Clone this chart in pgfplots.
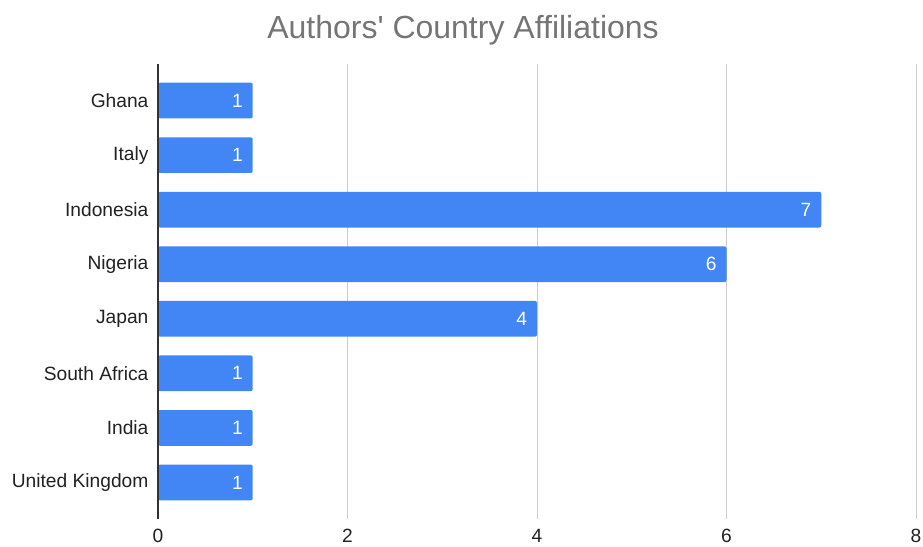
\documentclass[border=0pt]{standalone}
\usepackage{pgfplots}
\pgfplotsset{compat=1.18}
\usepackage{fontspec}
\setmainfont{Liberation Sans}
\definecolor{barblue}{HTML}{4285F4}
\definecolor{gridgray}{HTML}{CCCCCC}
\definecolor{titlegray}{HTML}{757575}
\definecolor{axisdark}{HTML}{333333}
\definecolor{labelblack}{HTML}{222222}
\begin{document}
\begin{tikzpicture}
\begin{axis}[
  name=ax,
  scale only axis,
  width=568.5pt, height=341.25pt,
  xbar, bar width=26.8pt,
  xmin=0, xmax=8,
  ymin=-0.67, ymax=7.67,
  y dir=reverse,
  xtick={0,2,4,6,8},
  ytick={0,1,2,3,4,5,6,7},
  yticklabels={Ghana,Italy,Indonesia,Nigeria,Japan,South Africa,India,United Kingdom},
  major tick length=0pt,
  axis line style={draw=none},
  xmajorgrids,
  major grid style={color=gridgray, line width=0.75pt},
  ticklabel style={font=\fontsize{14.4}{17}\selectfont, text=labelblack},
  /pgf/number format/assume math mode=true,
  yticklabel style={inner sep=0pt, xshift=-7pt},
  xticklabel style={inner sep=0pt, yshift=-7.5pt},
  nodes near coords,
  every node near coord/.append style={anchor=east, xshift=-4pt, text=white, font=\fontsize{14.4}{17}\selectfont},
  clip=false,
]
\addplot[fill=barblue, draw=none, rounded corners=1.5pt] coordinates {
  (1,0) (1,1) (7,2) (6,3) (4,4) (1,5) (1,6) (1,7)
};
\draw[axisdark, line width=1.2pt] (rel axis cs:0,0) -- (rel axis cs:0,1);
\end{axis}
\node[anchor=base, text=titlegray, font=\fontsize{24}{29}\selectfont] at ([xshift=-55.5pt, yshift=19.5pt]ax.north) {Authors\textquotesingle{} Country Affiliations};
\pgfresetboundingbox
\path ([xshift=-118.5pt, yshift=-20.25pt]ax.south west) rectangle ([xshift=573.75pt, yshift=389.25pt]ax.south west);
\end{tikzpicture}
\end{document}
